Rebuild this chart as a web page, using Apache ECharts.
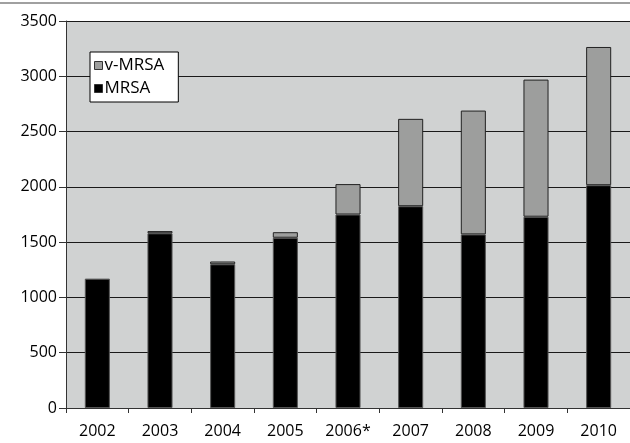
<!DOCTYPE html>
<html>
<head>
<meta charset="utf-8">
<script src="https://cdn.jsdelivr.net/npm/echarts@6/dist/echarts.min.js"></script>
<style>
  html, body { margin: 0; padding: 0; background: #ffffff; }
  #chart { width: 630px; height: 443px; }
</style>
</head>
<body>
<div id="chart"></div>
<script>
// Reported cases per year, split into MRSA and v-MRSA (stacked)
const years = ['2002', '2003', '2004', '2005', '2006*', '2007', '2008', '2009', '2010'];
const mrsa  = [1170, 1580, 1300, 1540, 1750, 1825, 1570, 1730, 2015];
const vMrsa = [0, 20, 25, 50, 275, 790, 1120, 1240, 1250];
const yTicks = { min: 0, max: 3500, step: 500 };

const fontFamily = '"Open Sans", "Noto Sans", sans-serif';

// empty segments are left out so no zero-height outline is drawn
const noZero = arr => arr.map(v => (v === 0 ? null : v));

const chart = echarts.init(document.getElementById('chart'), null, { renderer: 'canvas' });

chart.setOption({
  animation: false,
  backgroundColor: '#ffffff',
  graphic: [{
    type: 'line',
    shape: { x1: 0, y1: 3, x2: 630, y2: 3 },
    style: { stroke: '#a0a0a0', lineWidth: 2 }
  }],
  grid: {
    left: 66, right: 0, top: 21, bottom: 35,
    show: true,
    backgroundColor: '#d0d2d2',
    borderWidth: 0
  },
  legend: {
    data: ['v-MRSA', 'MRSA'],
    orient: 'vertical',
    left: 90, top: 52,
    padding: [5, 14, 5, 4],
    itemGap: 6,
    itemWidth: 8, itemHeight: 8,
    icon: 'rect',
    itemStyle: { borderColor: '#333', borderWidth: 1 },
    backgroundColor: '#ffffff',
    borderColor: '#000000',
    borderWidth: 1,
    borderRadius: 0,
    textStyle: { fontFamily, fontSize: 17, color: '#000', padding: [0, 0, 0, -3] }
  },
  xAxis: {
    type: 'category',
    data: years,
    axisLine: { show: true, lineStyle: { color: '#333', width: 1 } },
    axisTick: { show: true, alignWithLabel: false, length: 5, lineStyle: { color: '#333' } },
    axisLabel: { fontFamily, fontSize: 16, color: '#000', margin: 15 },
    splitLine: { show: false }
  },
  yAxis: {
    type: 'value',
    min: yTicks.min, max: yTicks.max, interval: yTicks.step,
    axisLine: { show: true, lineStyle: { color: '#333', width: 1 } },
    axisTick: { show: true, length: 7, lineStyle: { color: '#333' } },
    axisLabel: { fontFamily, fontSize: 16, color: '#000', margin: 9, formatter: v => String(v) },
    splitLine: { show: true, lineStyle: { color: '#1a1a1a', width: 1.2 } }
  },
  series: [
    {
      name: 'MRSA',
      type: 'bar',
      stack: 'cases',
      data: noZero(mrsa),
      barWidth: '40%',
      itemStyle: { color: '#000000', borderColor: '#555555', borderWidth: 1 }
    },
    {
      name: 'v-MRSA',
      type: 'bar',
      stack: 'cases',
      data: noZero(vMrsa),
      barWidth: '40%',
      itemStyle: { color: '#9d9e9d', borderColor: '#222222', borderWidth: 1 }
    }
  ]
});
</script>
</body>
</html>
